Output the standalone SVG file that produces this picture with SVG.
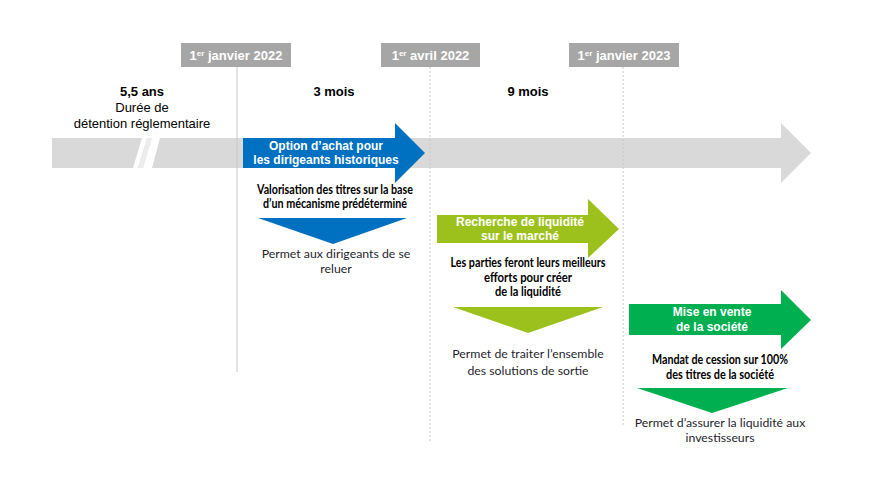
<svg xmlns="http://www.w3.org/2000/svg" width="883" height="484" viewBox="0 0 883 484">
<style>
.hdr{font-family:"Liberation Sans",Arial,sans-serif;font-weight:bold;font-size:13px;fill:#000;text-anchor:middle}
.reg{font-family:"Liberation Sans",Arial,sans-serif;font-size:13px;fill:#000;text-anchor:middle}
.date{font-family:"Liberation Sans",Arial,sans-serif;font-weight:bold;font-size:13px;fill:#fff;text-anchor:middle}
.sup{font-size:8px}
.wt{font-family:"Liberation Sans",Arial,sans-serif;font-weight:bold;font-size:12px;fill:#fff;text-anchor:middle}
.desc{font-family:Lato,"Open Sans",sans-serif;font-weight:bold;font-size:12.5px;fill:#000;text-anchor:middle}
.body{font-family:Lato,"Open Sans",sans-serif;font-size:12.3px;fill:#1f1f2e;text-anchor:middle}
.dbox{fill:#a6a6a6}
.vline{stroke:#c8c8c8;stroke-width:1;fill:none}
.dot{stroke-dasharray:2 2}
</style>
<g id="timeline">
  <polygon points="52,138 781,138 781,123 811,153 781,183 781,168 52,168" fill="#d9d9d9"/>
  <polygon points="142,138 147,138 138,168 133,168" fill="#fff"/>
  <polygon points="147,138 152,138 143,168 138,168" fill="#ececec"/>
  <polygon points="152,138 160,138 152,168 143,168" fill="#fff"/>
</g>
<g id="connectors">
  <line class="vline" x1="237" y1="67" x2="237" y2="372"/>
  <line class="vline dot" x1="430" y1="67" x2="430" y2="441"/>
  <line class="vline dot" x1="623" y1="67" x2="623" y2="425"/>
</g>
<g id="date1">
  <rect class="dbox" x="181" y="43" width="110" height="24"/>
  <text class="date" x="236" y="60">1<tspan class="sup" dy="-4">er</tspan><tspan dy="4"> janvier 2022</tspan></text>
</g>
<g id="date2">
  <rect class="dbox" x="381" y="43" width="99" height="24"/>
  <text class="date" x="430.5" y="60">1<tspan class="sup" dy="-4">er</tspan><tspan dy="4"> avril 2022</tspan></text>
</g>
<g id="date3">
  <rect class="dbox" x="569" y="43" width="110" height="24"/>
  <text class="date" x="624" y="60">1<tspan class="sup" dy="-4">er</tspan><tspan dy="4"> janvier 2023</tspan></text>
</g>
<g id="period0">
  <text class="hdr" x="142" y="96">5,5 ans</text>
  <text class="reg" x="142" y="112">Durée de</text>
  <text class="reg" x="142" y="128">détention réglementaire</text>
</g>
<g id="period1"><text class="hdr" x="334" y="96">3 mois</text></g>
<g id="period2"><text class="hdr" x="528" y="96">9 mois</text></g>
<g id="option">
  <polygon points="243,138 395,138 395,123 425,153 395,183 395,168 243,168" fill="#0070c0"/>
  <text class="wt" x="326" y="150">Option d’achat pour</text>
  <text class="wt" x="326" y="164">les dirigeants historiques</text>
  <text class="desc" x="335" y="194" textLength="156" lengthAdjust="spacingAndGlyphs">Valorisation des titres sur la base</text>
  <text class="desc" x="335" y="208" textLength="144" lengthAdjust="spacingAndGlyphs">d’un mécanisme prédéterminé</text>
  <polygon points="258,218 407,218 333,244" fill="#0070c0"/>
  <text class="body" x="336" y="258">Permet aux dirigeants de se</text>
  <text class="body" x="336" y="273">reluer</text>
</g>
<g id="recherche">
  <polygon points="437,215 588,215 588,199 619,229 588,258 588,243 437,243" fill="#9cc11c"/>
  <text class="wt" x="520" y="226">Recherche de liquidité</text>
  <text class="wt" x="520" y="240">sur le marché</text>
  <text class="desc" x="528" y="267" textLength="155" lengthAdjust="spacingAndGlyphs">Les parties feront leurs meilleurs</text>
  <text class="desc" x="528" y="282" textLength="88" lengthAdjust="spacingAndGlyphs">efforts pour créer</text>
  <text class="desc" x="528" y="296" textLength="66" lengthAdjust="spacingAndGlyphs">de la liquidité</text>
  <polygon points="453,307 603,307 528,333" fill="#9cc11c"/>
  <text class="body" x="528" y="358">Permet de traiter l’ensemble</text>
  <text class="body" x="528" y="375">des solutions de sortie</text>
</g>
<g id="vente">
  <polygon points="629,304 781,304 781,290 811,320 781,349 781,335 629,335" fill="#00b050"/>
  <text class="wt" x="712" y="316">Mise en vente</text>
  <text class="wt" x="712" y="331">de la société</text>
  <text class="desc" x="720" y="364" textLength="136" lengthAdjust="spacingAndGlyphs">Mandat de cession sur 100%</text>
  <text class="desc" x="720" y="379" textLength="108" lengthAdjust="spacingAndGlyphs">des titres de la société</text>
  <polygon points="637,388 788,388 712,413" fill="#00b050"/>
  <text class="body" x="720" y="427">Permet d’assurer la liquidité aux</text>
  <text class="body" x="720" y="442">investisseurs</text>
</g>
</svg>
